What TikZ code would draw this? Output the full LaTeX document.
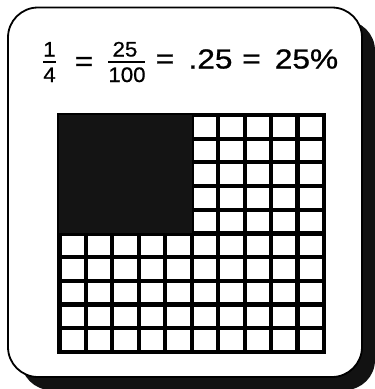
\documentclass[tikz,border=0pt]{standalone}
\usepackage{fontspec}
\setmainfont{Liberation Sans}
\newfontfamily\bigf[FakeStretch=1.15,FakeBold=0.9]{Liberation Sans}
\newfontfamily\fracf[FakeStretch=1.06,FakeBold=0.7]{Liberation Sans}
\tikzset{
  big/.style={font=\bigf\fontsize{27.5}{27.5}\selectfont, inner sep=0pt, anchor=base},
  fr/.style={font=\fracf\fontsize{21}{21}\selectfont, inner sep=0pt, anchor=base},
  fbar/.style={line width=1.8pt},
  shadowbox/.style={fill=black!93, rounded corners=30pt},
  cardbox/.style={draw=black, fill=white, line width=1.8pt, rounded corners=30pt},
  gridline/.style={draw=black, line width=4.3pt, line cap=rect},
  darkfill/.style={fill=black!92}
}
\begin{document}
\begin{tikzpicture}[x=1pt,y=-1pt]
\useasboundingbox (0,0) rectangle (375,389);
\clip (0,0) rectangle (375,389);
% card with shadow
\fill[shadowbox] (21,20.5) rectangle (375,390);
\draw[cardbox] (8,7.5) rectangle (362,377);
% equation
\node[fr] (n1) at (49.5,56.5) {1};
\node[fr] (d1) at (49.5,82) {4};
\draw[fbar] (43,61.7) -- (56,61.7);
\node[big] (eq1) at (84,70.5) {=};
\node[fr] (n2) at (125,56.5) {25};
\node[fr] (d2) at (127,82) {100};
\draw[fbar] (108,61.7) -- (145,61.7);
\node[big] (eq2) at (165,68) {=};
\node[big] (dec) at (210.5,68.5) {.25};
\node[big] (eq3) at (251.5,68) {=};
\node[big] (pct) at (306.5,68.5) {25\%};
% grid
\def\xo{59.4}\def\dx{26.47}\def\yo{115}\def\dy{23.67}
\foreach \i in {0,...,10} {
  \draw[gridline] ({\xo+\i*\dx},\yo) -- ({\xo+\i*\dx},{\yo+10*\dy});
  \draw[gridline] (\xo,{\yo+\i*\dy}) -- ({\xo+10*\dx},{\yo+\i*\dy});
}
\fill[darkfill] (\xo,\yo) rectangle ({\xo+5*\dx},{\yo+5*\dy});
\end{tikzpicture}
\end{document}
